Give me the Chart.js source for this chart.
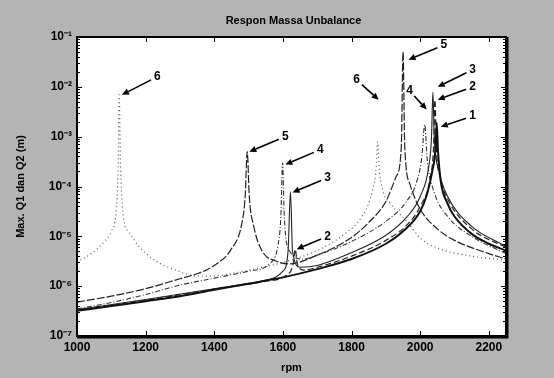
<!DOCTYPE html>
<html><head><meta charset="utf-8">
<script src="https://cdn.jsdelivr.net/npm/chart.js@4/dist/chart.umd.min.js"></script>
<style>html,body{margin:0;padding:0;background:#b4b4b4;}canvas{display:block;}</style>
</head><body>
<canvas id="c" width="554" height="378"></canvas>
<script>
// ---- data ----
const chartTitle = 'Respon Massa Unbalance';
const xTitle = 'rpm';
const yTitle = 'Max. Q1 dan Q2 (m)';
const xTickValues = [1000, 1200, 1400, 1600, 1800, 2000, 2200];
const yTickValues = [1e-7, 1e-6, 1e-5, 1e-4, 1e-3, 1e-2, 1e-1];
const yTickLabels = ['10\u207B\u2077', '10\u207B\u2076', '10\u207B\u2075', '10\u207B\u2074', '10\u207B\u00B3', '10\u207B\u00B2', '10\u207B\u00B9'];

const rpm1 = [1000,1100,1200,1300,1400,1500,1600,1700,1800,1900,1950,2000,2020,2035,2045,2048,2052,2060,2080,2100,2150,2200,2250];
const val1 = [3.2e-7,4.0e-7,5.0e-7,6.3e-7,8.5e-7,1.12e-6,1.5e-6,2.2e-6,3.5e-6,7.1e-6,1.26e-5,3.2e-5,7.1e-5,2.0e-4,6.3e-4,1.9e-3,5.0e-4,1.26e-4,4.5e-5,2.5e-5,1.12e-5,7.1e-6,5.2e-6];

const rpm2 = [1000,1200,1400,1550,1610,1630,1636,1642,1660,1700,1800,1900,1960,2000,2030,2039,2043,2047,2060,2080,2150,2250];
const val2 = [3.3e-7,5.2e-7,8.7e-7,1.26e-6,1.66e-6,2.8e-6,5.5e-6,2.8e-6,2.1e-6,2.4e-6,4.0e-6,8.3e-6,1.66e-5,4.0e-5,1.58e-4,6.3e-4,5.5e-3,6.3e-4,1.41e-4,5.6e-5,1.41e-5,6.0e-6];

const rpm3 = [1000,1200,1400,1550,1600,1615,1622,1628,1650,1700,1800,1900,1960,2000,2025,2033,2037,2041,2055,2080,2150,2250];
const val3 = [3.4e-7,5.4e-7,8.9e-7,1.32e-6,2.0e-6,5.0e-6,7.9e-5,5.0e-6,2.4e-6,2.6e-6,4.7e-6,1.05e-5,2.4e-5,6.3e-5,2.5e-4,1.0e-3,7.9e-3,1.0e-3,2.0e-4,6.3e-5,1.58e-5,6.3e-6];

const rpm4 = [1000,1100,1200,1300,1400,1500,1560,1585,1594,1599,1604,1620,1660,1700,1800,1900,1960,1990,2005,2013,2021,2040,2080,2150,2250];
const val4 = [3.5e-7,4.7e-7,6.8e-7,1.05e-6,1.45e-6,2.0e-6,2.8e-6,6.3e-6,2.5e-5,3.0e-4,2.5e-5,5.0e-6,3.5e-6,4.2e-6,7.9e-6,2.0e-5,5.0e-5,1.26e-4,4.0e-4,1.74e-3,3.2e-4,7.9e-5,2.5e-5,1.0e-5,4.5e-6];

const rpm5 = [1000,1100,1200,1300,1350,1400,1450,1480,1490,1496,1502,1515,1540,1580,1620,1700,1800,1850,1900,1930,1945,1950,1955,1970,2000,2050,2100,2200,2250];
const val5 = [4.8e-7,6.3e-7,8.9e-7,1.41e-6,1.78e-6,2.6e-6,5.6e-6,1.78e-5,6.3e-5,5.0e-4,6.3e-5,1.58e-5,5.0e-6,3.2e-6,2.8e-6,4.2e-6,9.5e-6,1.9e-5,5.0e-5,1.58e-4,6.3e-4,5.0e-2,6.3e-4,1.12e-4,3.5e-5,1.41e-5,8.3e-6,4.5e-6,3.5e-6];

const rpm6 = [1000,1050,1080,1100,1114,1120,1123,1127,1137,1150,1180,1230,1280,1360,1420,1500,1600,1700,1780,1830,1860,1872,1876,1880,1892,1914,1963,2004,2060,2150,2250];
const val6 = [3.0e-6,5.0e-6,7.9e-6,1.26e-5,3.2e-5,2.5e-4,6.9e-3,2.5e-4,2.0e-5,1.26e-5,6.3e-6,3.2e-6,2.2e-6,1.58e-6,1.66e-6,2.1e-6,3.0e-6,5.2e-6,1.12e-5,2.5e-5,7.9e-5,2.5e-4,7.9e-4,2.5e-4,7.9e-5,4.5e-5,1.9e-5,8.7e-6,5.5e-6,4.0e-6,3.3e-6];

// annotation labels: text, arrow tip (rpm, value), label anchor (rpm, value)
const annText = ['6','5','3','2','1','4','6','5','4','3','2'];
const annTipX = [1131,1966,2051,2051,2060,2019,1879,1502,1607,1628,1640];
const annTipY = [6.9e-3,3.5e-2,1.0e-2,5.5e-3,1.58e-3,3.5e-3,5.5e-3,5.0e-4,2.75e-4,7.6e-5,5.5e-6];
const annLabX = [1234,2069,2153,2153,2153,1969,1815,1607,1709,1730,1730];
const annLabY = [1.6e-2,6.9e-2,2.2e-2,1.0e-2,2.6e-3,8.3e-3,1.38e-2,1.0e-3,5.5e-4,1.5e-4,1.0e-5];

// ---- build ----
const zip = (xs, ys) => xs.map((x, i) => ({x: x, y: ys[i]}));
const series = [
  {d: zip(rpm1, val1), color: '#111', w: 2.0, dash: []},
  {d: zip(rpm2, val2), color: '#222', w: 1.2, dash: [6, 3]},
  {d: zip(rpm3, val3), color: '#222', w: 1.1, dash: []},
  {d: zip(rpm4, val4), color: '#333', w: 1.1, dash: [5, 2, 1, 2]},
  {d: zip(rpm5, val5), color: '#222', w: 1.2, dash: [8, 2]},
  {d: zip(rpm6, val6), color: '#555', w: 1.2, dash: [1, 3]}
];
const datasets = series.map((s, i) => ({
  label: String(i + 1), data: s.d, borderColor: s.color, borderWidth: s.w,
  borderDash: s.dash, pointRadius: 0, fill: false, cubicInterpolationMode: 'monotone'
}));

const FONT = 'Liberation Sans, Arial, sans-serif';

const framePlugin = {
  id: 'frame',
  beforeDraw(chart) {
    const a = chart.chartArea, c = chart.ctx;
    c.save();
    c.globalAlpha = 1;
    c.fillStyle = 'rgb(180,180,180)';
    c.fillRect(0, 0, chart.width, chart.height);
    c.fillStyle = '#ffffff';
    c.fillRect(a.left, a.top, a.right - a.left, a.bottom - a.top);
    c.restore();
  },
  afterDraw(chart) {
    const a = chart.chartArea, c = chart.ctx;
    const xs = chart.scales.x, ys = chart.scales.y;
    c.save();
    // title
    c.fillStyle = '#000';
    c.font = 'bold 11px ' + FONT;
    c.textAlign = 'center'; c.textBaseline = 'middle';
    c.fillText(chartTitle, (a.left + a.right) / 2 + 2, 21);
    c.strokeStyle = '#000';
    // inward ticks
    c.lineWidth = 1;
    c.beginPath();
    xTickValues.forEach(v => {
      const px = Math.round(xs.getPixelForValue(v)) + 0.5;
      c.moveTo(px, a.bottom); c.lineTo(px, a.bottom - 5);
      c.moveTo(px, a.top); c.lineTo(px, a.top + 5);
    });
    yTickValues.forEach((v, i) => {
      const py = Math.round(ys.getPixelForValue(v)) + 0.5;
      c.moveTo(a.left, py); c.lineTo(a.left + 5, py);
      c.moveTo(a.right, py); c.lineTo(a.right - 5, py);
      if (i < yTickValues.length - 1) {
        for (let k = 2; k <= 9; k++) {
          const pm = Math.round(ys.getPixelForValue(v * k)) + 0.5;
          c.moveTo(a.left, pm); c.lineTo(a.left + 3, pm);
          c.moveTo(a.right, pm); c.lineTo(a.right - 3, pm);
        }
      }
    });
    c.stroke();
    // frame
    c.lineWidth = 2;
    c.strokeRect(a.left, a.top, a.right - a.left, a.bottom - a.top);
    c.beginPath();
    c.moveTo(a.right + 1.5, a.top); c.lineTo(a.right + 1.5, a.bottom + 1.5); c.lineTo(a.left, a.bottom + 1.5);
    c.stroke();
    // annotations
    c.font = 'bold 12px ' + FONT;
    annText.forEach((t, i) => {
      const lx = xs.getPixelForValue(annLabX[i]), ly = ys.getPixelForValue(annLabY[i]);
      const tx = xs.getPixelForValue(annTipX[i]), ty = ys.getPixelForValue(annTipY[i]);
      c.fillText(t, lx, ly);
      const dx = tx - lx, dy = ty - ly, L = Math.hypot(dx, dy), ux = dx / L, uy = dy / L;
      const sx = lx + ux * 7, sy = ly + uy * 7;
      const hx = tx - ux * 7, hy = ty - uy * 7;
      c.lineWidth = 1.6;
      c.beginPath(); c.moveTo(sx, sy); c.lineTo(hx, hy); c.stroke();
      c.beginPath();
      c.moveTo(tx, ty);
      c.lineTo(hx - uy * 3.2, hy + ux * 3.2);
      c.lineTo(hx + uy * 3.2, hy - ux * 3.2);
      c.closePath(); c.fill();
    });
    c.restore();
  }
};

new Chart(document.getElementById('c'), {
  type: 'line',
  data: {datasets: datasets},
  options: {
    responsive: false, animation: false, events: [],
    layout: {padding: {left: 0, right: 48, top: 37, bottom: 0}},
    plugins: {
      legend: {display: false}, tooltip: {enabled: false}, title: {display: false}
    },
    scales: {
      x: {
        type: 'linear', min: 1000, max: 2250,
        afterBuildTicks: s => { s.ticks = xTickValues.map(v => ({value: v})); },
        grid: {display: false, drawTicks: false}, border: {display: false},
        ticks: {color: '#000', font: {family: FONT, size: 12, weight: 'bold'}, padding: 4, maxRotation: 0, autoSkip: false,
          callback: (v) => String(v)},
        title: {display: true, text: xTitle, color: '#000', font: {family: FONT, size: 11, weight: 'bold'}, padding: {top: 0, bottom: 3}},
        afterFit: s => { s.height = 42; }
      },
      y: {
        type: 'logarithmic', min: 1e-7, max: 1e-1,
        afterBuildTicks: s => { s.ticks = yTickValues.map(v => ({value: v})); },
        grid: {display: false, drawTicks: false}, border: {display: false},
        ticks: {color: '#000', font: {family: FONT, size: 12, weight: 'bold'}, padding: 5, autoSkip: false,
          callback: (v) => { const i = yTickValues.findIndex(t => Math.abs(t - v) / t < 1e-6); return i >= 0 ? yTickLabels[i] : ''; }},
        title: {display: true, text: yTitle, color: '#000', font: {family: FONT, size: 11, weight: 'bold'}, padding: {top: 14, bottom: 0}},
        afterFit: s => { s.width = 77; }
      }
    }
  },
  plugins: [framePlugin]
});
</script>
</body></html>
